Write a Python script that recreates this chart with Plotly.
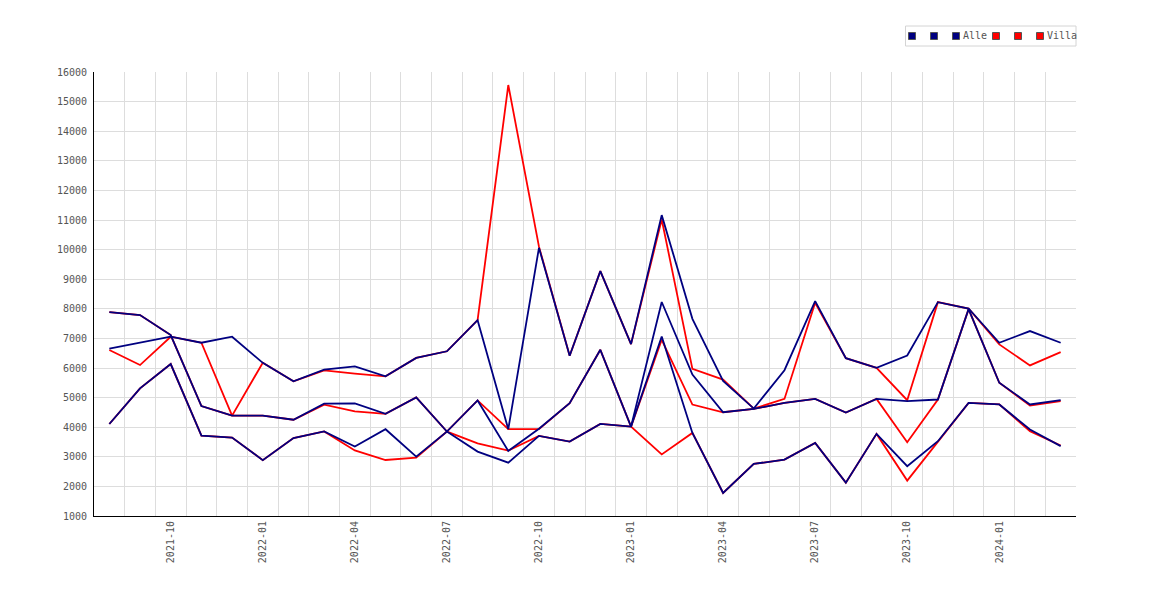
import plotly.graph_objects as go

# ── Data ─────────────────────────────────────────────────────────────────────
months = [
    '2021-08', '2021-09', '2021-10', '2021-11', '2021-12',
    '2022-01', '2022-02', '2022-03', '2022-04', '2022-05', '2022-06',
    '2022-07', '2022-08', '2022-09', '2022-10', '2022-11', '2022-12',
    '2023-01', '2023-02', '2023-03', '2023-04', '2023-05', '2023-06',
    '2023-07', '2023-08', '2023-09', '2023-10', '2023-11', '2023-12',
    '2024-01', '2024-02', '2024-03',
]
tick_labels = ['2021-10', '2022-01', '2022-04', '2022-07', '2022-10',
               '2023-01', '2023-04', '2023-07', '2023-10', '2024-01']

alle_1 = [6651, 6850, 7060, 6854, 7056, 6175, 5549, 5944, 6056, 5717, 6339,
          6565, 7616, 3932, 10061, 6412, 9272, 6807, 11165, 7662, 5560, 4630,
          5926, 8259, 6333, 6005, 6422, 8225, 8010, 6853, 7248, 6853]
alle_2 = [7889, 7788, 7112, 4716, 4390, 4388, 4253, 4794, 4805, 4452, 5006,
          3853, 4904, 3198, 3950, 4810, 6615, 4020, 8230, 5779, 4505, 4618,
          4821, 4956, 4495, 4957, 4878, 4935, 7990, 5501, 4769, 4915]
alle_3 = [4109, 5313, 6134, 3715, 3648, 2885, 3633, 3859, 3350, 3932, 3005,
          3853, 3175, 2802, 3706, 3513, 4111, 4020, 7066, 3806, 1777, 2758,
          2904, 3468, 2126, 3774, 2681, 3526, 4822, 4769, 3923, 3360]

villa_1 = [6606, 6100, 7056, 6854, 4390, 6179, 5549, 5921, 5808, 5717, 6339,
           6565, 7616, 15560, 10100, 6412, 9272, 6807, 11018, 5971, 5610, 4630,
           4956, 8203, 6333, 6005, 4912, 8225, 8010, 6797, 6087, 6538]
villa_2 = [7889, 7788, 7112, 4716, 4390, 4388, 4253, 4760, 4535, 4452, 5006,
           3853, 4904, 3932, 3932, 4810, 6615, 4020, 6953, 4764, 4505, 4618,
           4821, 4956, 4495, 4957, 3492, 4935, 7990, 5501, 4735, 4881]
villa_3 = [4109, 5313, 6134, 3715, 3648, 2885, 3633, 3859, 3216, 2892, 2971,
           3853, 3457, 3209, 3706, 3513, 4111, 4020, 3080, 3806, 1777, 2758,
           2904, 3468, 2126, 3774, 2196, 3526, 4822, 4769, 3867, 3382]

NAVY = '#000080'
RED = '#ff0000'
GREY = '#555555'
FONT = 'DejaVu Sans Mono'

# ── Figure ───────────────────────────────────────────────────────────────────
fig = go.Figure()

# red first so the navy lines sit on top where they overlap
for ys in (villa_1, villa_2, villa_3):
    fig.add_trace(go.Scatter(x=months, y=ys, mode='lines',
                             line=dict(color=RED, width=1.8),
                             showlegend=False, hoverinfo='skip'))
for ys in (alle_1, alle_2, alle_3):
    fig.add_trace(go.Scatter(x=months, y=ys, mode='lines',
                             line=dict(color=NAVY, width=1.8),
                             showlegend=False, hoverinfo='skip'))

# ── Hand-made legend (small squares like the original) ───────────────────────
# page has an 8px body margin, so the figure is a bit smaller than the window
W, H = 1162, 592
L, R, T, B = 86, 94, 64, 84
OFF = 8


def px_x(px):
    return (px - OFF - L) / (W - L - R)


def px_y(py):
    return (H - B - (py - OFF)) / (H - T - B)


shapes = [dict(type='rect', xref='paper', yref='paper',
               x0=px_x(905.5), x1=px_x(1076), y0=px_y(46), y1=px_y(26),
               line=dict(color='#d4d4d4', width=1), fillcolor='white')]
for cx, col in zip([912, 934, 956, 996, 1018, 1040],
                   [NAVY, NAVY, NAVY, RED, RED, RED]):
    shapes.append(dict(type='rect', xref='paper', yref='paper',
                       xsizemode='pixel', ysizemode='pixel',
                       xanchor=px_x(cx), yanchor=px_y(36),
                       x0=-3.5, x1=3.5, y0=-3.5, y1=3.5,
                       line=dict(color=GREY, width=1), fillcolor=col))

annotations = [
    dict(text='Alle', x=px_x(961), y=px_y(36), xref='paper', yref='paper',
         xanchor='left', yanchor='middle', showarrow=False,
         font=dict(family=FONT, size=10, color=GREY)),
    dict(text='Villa', x=px_x(1045), y=px_y(36), xref='paper', yref='paper',
         xanchor='left', yanchor='middle', showarrow=False,
         font=dict(family=FONT, size=10, color=GREY)),
]

fig.update_layout(
    width=W, height=H,
    margin=dict(l=L, r=R, t=T, b=B),
    plot_bgcolor='white', paper_bgcolor='white',
    showlegend=False,
    font=dict(family=FONT, size=10, color=GREY),
    shapes=shapes,
    annotations=annotations,
    xaxis=dict(
        type='category', categoryorder='array', categoryarray=months,
        range=[-0.5, len(months) - 0.5],
        tickmode='array', tickvals=months,
        ticktext=[m if m in tick_labels else '' for m in months],
        tickangle=-90, tickson='boundaries', ticks='',
        tickfont=dict(family=FONT, size=10, color=GREY),
        showgrid=True, gridcolor='#dddddd', gridwidth=1,
        showline=True, linecolor='black', linewidth=1,
        zeroline=False,
    ),
    yaxis=dict(
        range=[1000, 16000], tickmode='linear', tick0=1000, dtick=1000,
        tickformat='d', ticklabelstandoff=4,
        ticks='', tickfont=dict(family=FONT, size=10, color=GREY),
        showgrid=True, gridcolor='#dddddd', gridwidth=1,
        showline=True, linecolor='black', linewidth=1,
        zeroline=False,
    ),
)

fig.write_html("out.html")
